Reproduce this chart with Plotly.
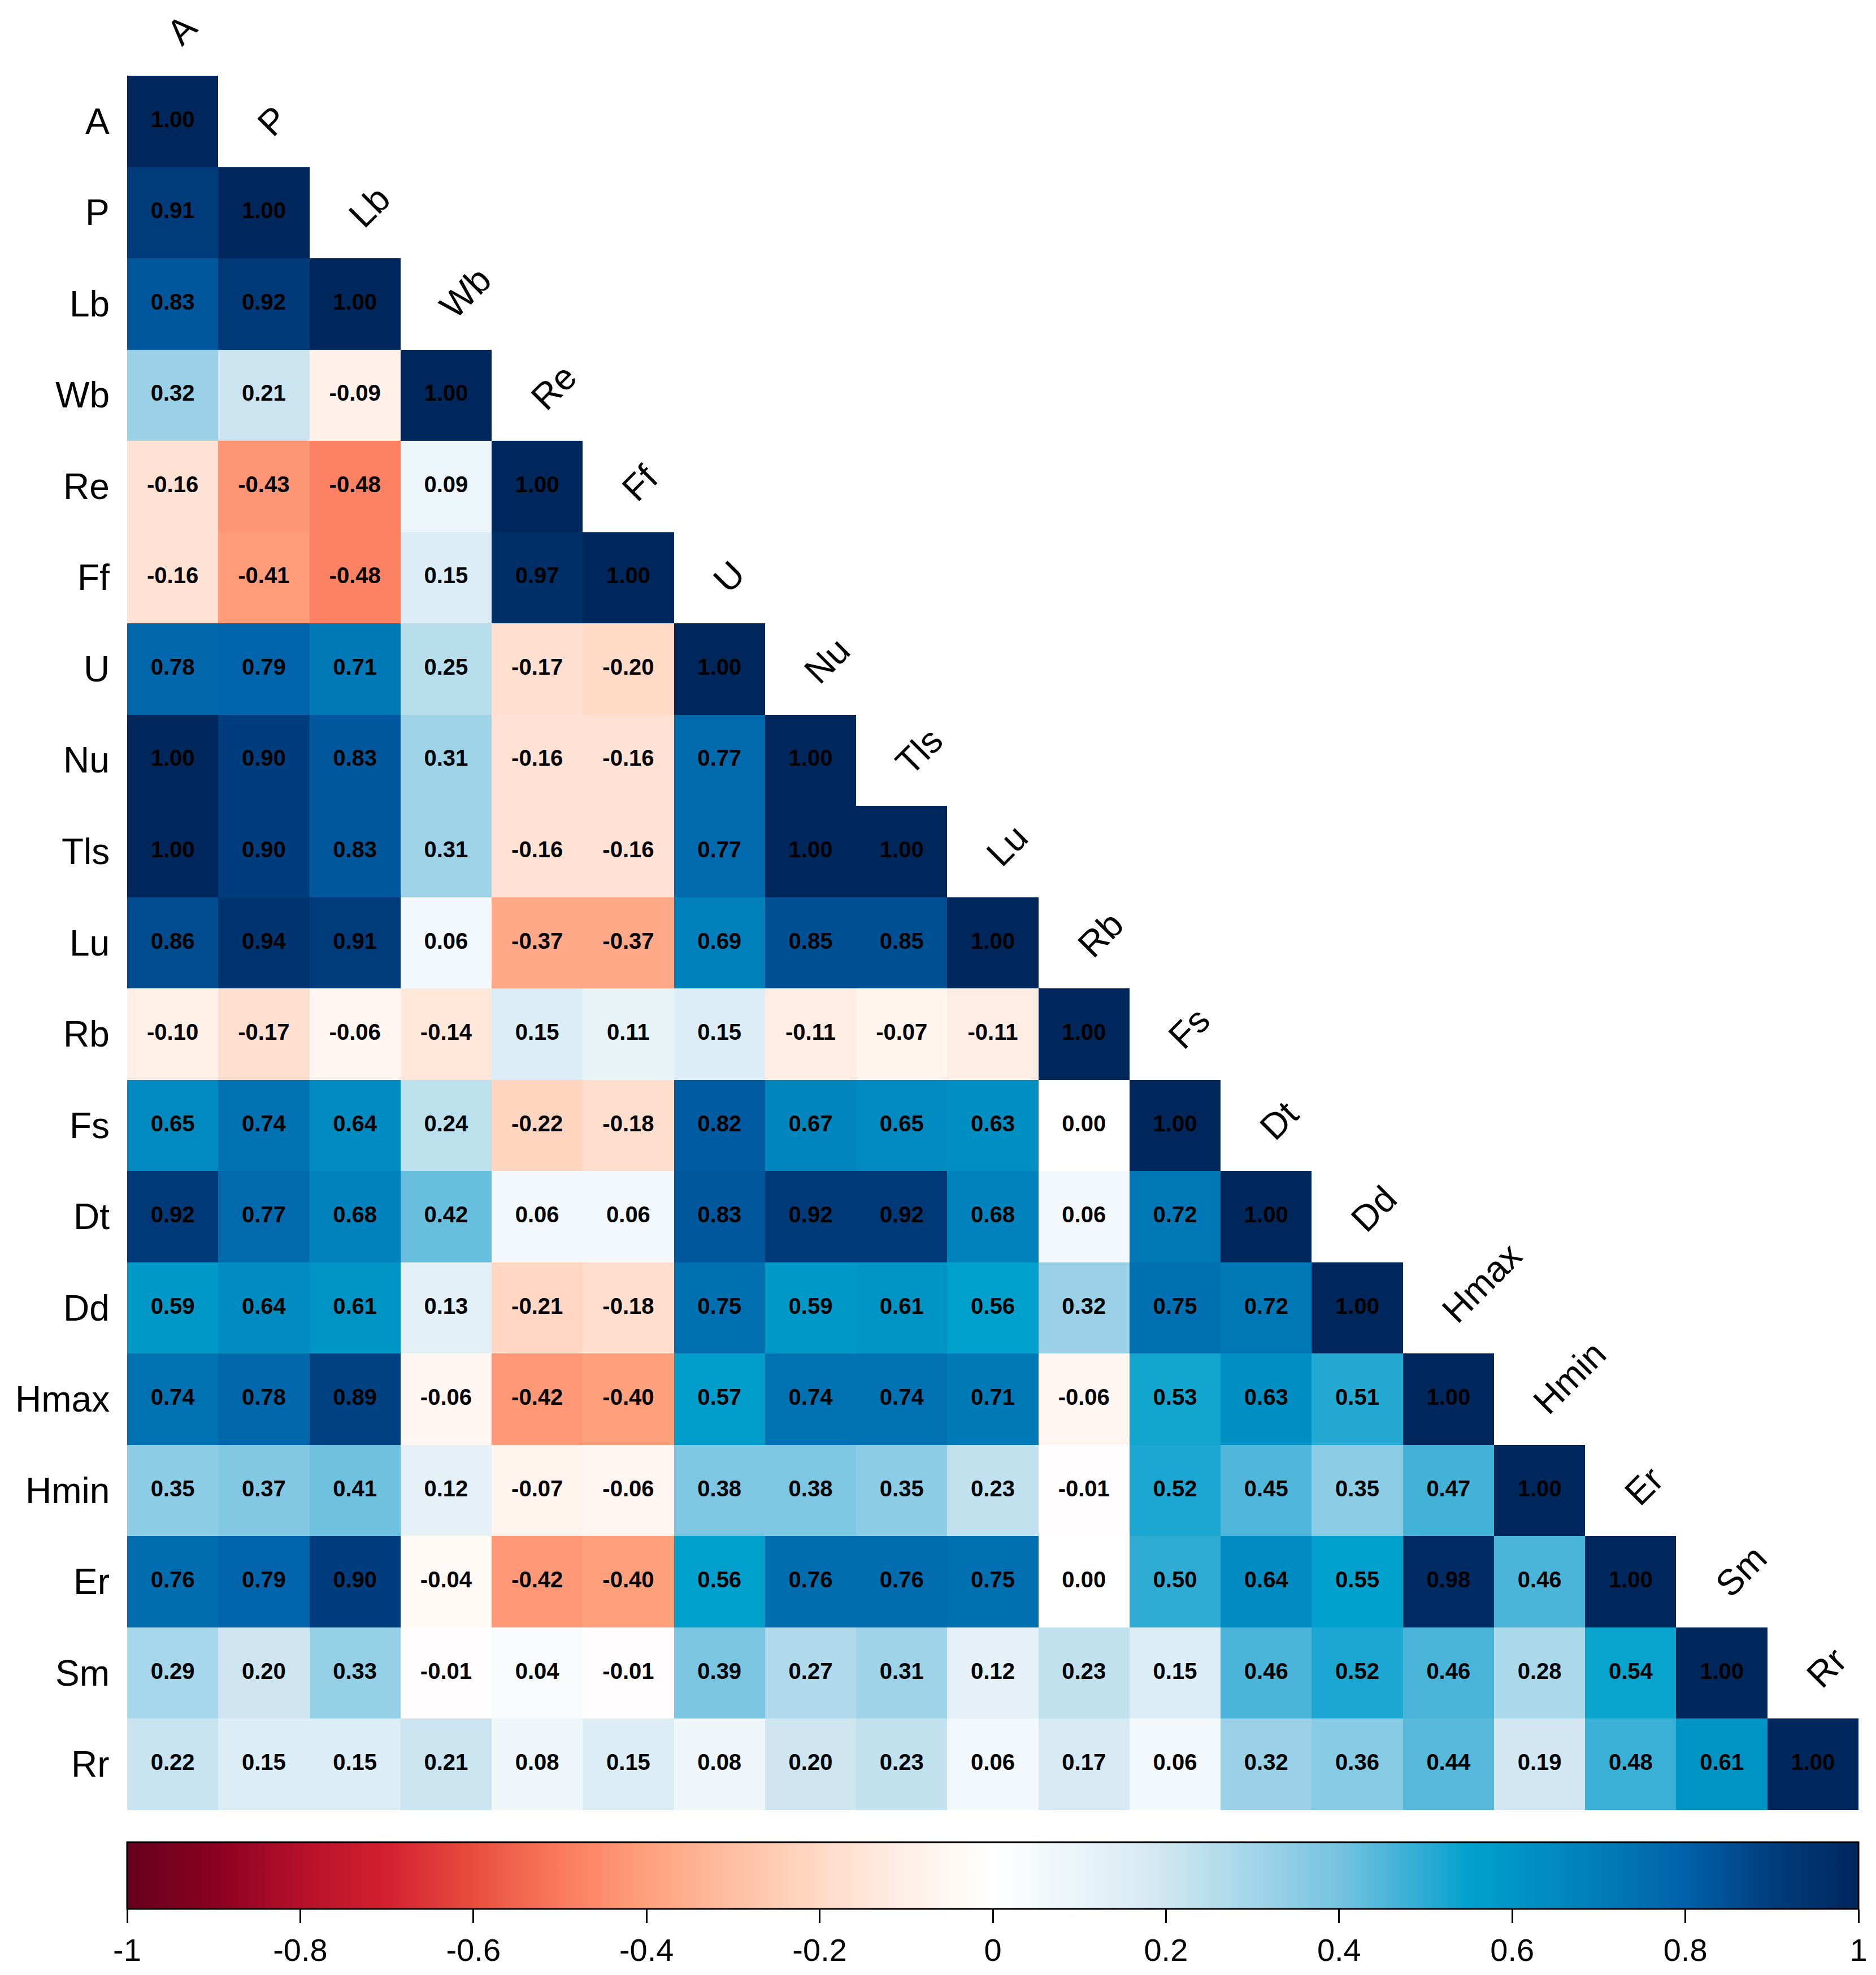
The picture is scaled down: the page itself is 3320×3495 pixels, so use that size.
import plotly.graph_objects as go

labels = ["A", "P", "Lb", "Wb", "Re", "Ff", "U", "Nu", "Tls", "Lu",
          "Rb", "Fs", "Dt", "Dd", "Hmax", "Hmin", "Er", "Sm", "Rr"]

# lower-triangle correlation rows (row i holds columns 0..i)
r_A = [1.00]
r_P = [0.91, 1.00]
r_Lb = [0.83, 0.92, 1.00]
r_Wb = [0.32, 0.21, -0.09, 1.00]
r_Re = [-0.16, -0.43, -0.48, 0.09, 1.00]
r_Ff = [-0.16, -0.41, -0.48, 0.15, 0.97, 1.00]
r_U = [0.78, 0.79, 0.71, 0.25, -0.17, -0.20, 1.00]
r_Nu = [1.00, 0.90, 0.83, 0.31, -0.16, -0.16, 0.77, 1.00]
r_Tls = [1.00, 0.90, 0.83, 0.31, -0.16, -0.16, 0.77, 1.00, 1.00]
r_Lu = [0.86, 0.94, 0.91, 0.06, -0.37, -0.37, 0.69, 0.85, 0.85, 1.00]
r_Rb = [-0.10, -0.17, -0.06, -0.14, 0.15, 0.11, 0.15, -0.11, -0.07, -0.11, 1.00]
r_Fs = [0.65, 0.74, 0.64, 0.24, -0.22, -0.18, 0.82, 0.67, 0.65, 0.63, 0.00, 1.00]
r_Dt = [0.92, 0.77, 0.68, 0.42, 0.06, 0.06, 0.83, 0.92, 0.92, 0.68, 0.06, 0.72, 1.00]
r_Dd = [0.59, 0.64, 0.61, 0.13, -0.21, -0.18, 0.75, 0.59, 0.61, 0.56, 0.32, 0.75, 0.72, 1.00]
r_Hmax = [0.74, 0.78, 0.89, -0.06, -0.42, -0.40, 0.57, 0.74, 0.74, 0.71, -0.06, 0.53, 0.63,
          0.51, 1.00]
r_Hmin = [0.35, 0.37, 0.41, 0.12, -0.07, -0.06, 0.38, 0.38, 0.35, 0.23, -0.01, 0.52, 0.45,
          0.35, 0.47, 1.00]
r_Er = [0.76, 0.79, 0.90, -0.04, -0.42, -0.40, 0.56, 0.76, 0.76, 0.75, 0.00, 0.50, 0.64,
        0.55, 0.98, 0.46, 1.00]
r_Sm = [0.29, 0.20, 0.33, -0.01, 0.04, -0.01, 0.39, 0.27, 0.31, 0.12, 0.23, 0.15, 0.46,
        0.52, 0.46, 0.28, 0.54, 1.00]
r_Rr = [0.22, 0.15, 0.15, 0.21, 0.08, 0.15, 0.08, 0.20, 0.23, 0.06, 0.17, 0.06, 0.32,
        0.36, 0.44, 0.19, 0.48, 0.61, 1.00]

rows = [r_A, r_P, r_Lb, r_Wb, r_Re, r_Ff, r_U, r_Nu, r_Tls, r_Lu, r_Rb, r_Fs, r_Dt,
        r_Dd, r_Hmax, r_Hmin, r_Er, r_Sm, r_Rr]

tick_vals = [-1, -0.8, -0.6, -0.4, -0.2, 0, 0.2, 0.4, 0.6, 0.8, 1]
tick_text = ["-1", "-0.8", "-0.6", "-0.4", "-0.2", "0", "0.2", "0.4", "0.6", "0.8", "1"]

n = len(labels)
z = [[(rows[i][j] if j <= i else None) for j in range(n)] for i in range(n)]

colorscale = [
    [0.00, "#67001F"], [0.05, "#8A0020"], [0.10, "#B5102A"], [0.15, "#D42030"],
    [0.20, "#E74E3E"], [0.25, "#FA7A5E"], [0.30, "#FFA07D"], [0.35, "#FFBFA2"],
    [0.40, "#FFDAC6"], [0.45, "#FFEFE7"], [0.50, "#FFFFFF"], [0.55, "#EAF4F8"],
    [0.60, "#CFE6F1"], [0.625, "#B8DEEC"], [0.65, "#A3D5E9"], [0.70, "#75C3E0"],
    [0.75, "#2DABD3"], [0.775, "#00A2CD"], [0.80, "#0096C6"], [0.85, "#007DB9"],
    [0.90, "#0062A8"], [0.95, "#003D7E"], [1.00, "#00275C"],
]

W, H = 3320, 3495
ML, MR, MT, MB = 225, 31, 134, 291
plot_h = H - MT - MB
plot_w = W - ML - MR

FONT = "Liberation Sans, Arial, sans-serif"

fig = go.Figure()
fig.add_trace(go.Heatmap(
    z=z, x=labels, y=labels, zmin=-1, zmax=1, colorscale=colorscale,
    hoverongaps=False,
    colorbar=dict(
        orientation="h", x=0.5, xanchor="center",
        y=-(3260 - (H - MB)) / plot_h, yanchor="top",
        len=plot_w, lenmode="pixels", thickness=118, thicknessmode="pixels",
        outlinewidth=3, outlinecolor="black", xpad=0, ypad=0, borderwidth=0,
        ticks="outside", ticklen=24, tickwidth=3, tickcolor="black",
        tickvals=tick_vals, ticktext=tick_text,
        tickfont=dict(size=56, family=FONT, color="black"),
    ),
))

tx, ty, tt = [], [], []
for i in range(n):
    for j in range(i + 1):
        tx.append(labels[j])
        ty.append(labels[i])
        tt.append(f"{rows[i][j]:.2f}")
fig.add_trace(go.Scatter(
    x=tx, y=ty, text=tt, mode="text", hoverinfo="skip", showlegend=False,
    textposition="middle center",
    textfont=dict(size=40, family=FONT, color="black", weight="bold"),
))

annotations = []
for i, lab in enumerate(labels):
    annotations.append(dict(
        x=0, xref="paper", y=lab, yref="y", text=lab, showarrow=False,
        xanchor="right", yanchor="middle", xshift=-29,
        font=dict(size=64, family=FONT, color="black"),
    ))
    annotations.append(dict(
        x=i, xref="x", y=i - 0.5, yref="y", text=lab, showarrow=False,
        xanchor="left", yanchor="bottom", xshift=-28, yshift=38, textangle=-45,
        font=dict(size=64, family=FONT, color="black"),
    ))

fig.update_layout(
    width=W, height=H,
    margin=dict(l=ML, r=MR, t=MT, b=MB, pad=0),
    paper_bgcolor="white", plot_bgcolor="white",
    annotations=annotations,
    showlegend=False,
    xaxis=dict(showticklabels=False, showgrid=False, zeroline=False, ticks="",
               showline=False, range=[-0.5, n - 0.5], type="category"),
    yaxis=dict(showticklabels=False, showgrid=False, zeroline=False, ticks="",
               showline=False, range=[n - 0.5, -0.5], type="category"),
)

fig.write_html("out.html")
